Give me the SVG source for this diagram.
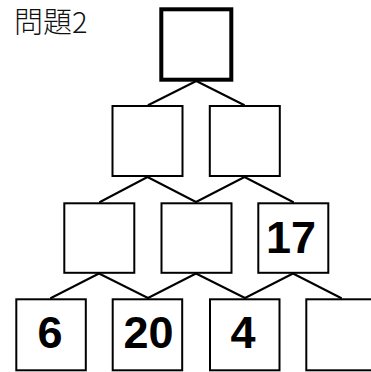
<svg xmlns="http://www.w3.org/2000/svg" width="371" height="372" viewBox="0 0 371 372">
<style>
.box{fill:#fff;stroke:#000;stroke-width:2}
.top{fill:#fff;stroke:#000;stroke-width:4}
.conn line{stroke:#000;stroke-width:2;stroke-linecap:round}
.num{font-family:"Liberation Sans",Arial,sans-serif;font-weight:bold;font-size:45px;text-anchor:middle;fill:#000}
.title{font-family:"Noto Sans CJK JP","Noto Sans CJK SC",sans-serif;font-weight:300;font-size:29px;fill:#111}
</style>
<rect width="371" height="372" fill="#fff"/>
<text class="title" x="14" y="33">問題2</text>
<g id="connectors" class="conn">
<line x1="196.3" y1="81" x2="148.5" y2="105"/>
<line x1="196.3" y1="81" x2="244" y2="105"/>
<line x1="147.5" y1="177" x2="100" y2="202"/>
<line x1="147.5" y1="177" x2="196" y2="202"/>
<line x1="244.5" y1="177" x2="196" y2="202"/>
<line x1="244.5" y1="177" x2="293" y2="202"/>
<line x1="99" y1="273.5" x2="51" y2="298"/>
<line x1="99" y1="273.5" x2="148" y2="298"/>
<line x1="196" y1="273.5" x2="148" y2="298"/>
<line x1="196" y1="273.5" x2="245" y2="298"/>
<line x1="293" y1="273.5" x2="245" y2="298"/>
<line x1="293" y1="273.5" x2="341" y2="298"/>
</g>
<g id="n-top"><rect class="top" x="161.3" y="9.3" width="70" height="70.4"/></g>
<g id="n-r2-1"><rect class="box" x="112.5" y="106" width="70" height="70"/></g>
<g id="n-r2-2"><rect class="box" x="209.8" y="106" width="70" height="70"/></g>
<g id="n-r3-1"><rect class="box" x="64.3" y="203.3" width="70" height="69.5"/></g>
<g id="n-r3-2"><rect class="box" x="161.5" y="203.3" width="70" height="69.5"/></g>
<g id="n-r3-3"><rect class="box" x="258.3" y="203.3" width="70" height="69.5"/><text class="num" x="291" y="252.7">17</text></g>
<g id="n-r4-1"><rect class="box" x="16.3" y="299.3" width="69.5" height="71"/><text class="num" x="50" y="348.3">6</text></g>
<g id="n-r4-2"><rect class="box" x="112.7" y="299.3" width="69.5" height="71"/><text class="num" x="148.5" y="348.3">20</text></g>
<g id="n-r4-3"><rect class="box" x="210" y="299.3" width="69.5" height="71"/><text class="num" x="243" y="348.3">4</text></g>
<g id="n-r4-4"><rect class="box" x="306.3" y="299.3" width="70" height="71"/></g>
</svg>
